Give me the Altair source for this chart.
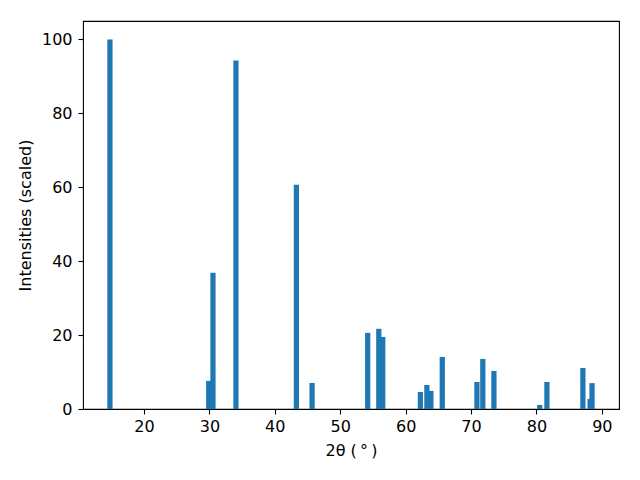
import altair as alt
import pandas as pd

two_theta = [14.8, 29.9, 30.55, 34.06, 43.3, 45.7, 54.2, 55.9, 56.5, 62.26, 63.25, 63.86,
             65.6, 70.9, 71.8, 73.5, 80.5, 81.6, 87.1, 88.2, 88.5]
intensity = [100.0, 7.6, 36.9, 94.3, 60.7, 7.05, 20.6, 21.7, 19.5, 4.6, 6.5, 4.9,
             14.1, 7.3, 13.55, 10.3, 1.1, 7.3, 11.1, 2.7, 7.0]

df = pd.DataFrame({"x": two_theta, "y": intensity})

font = "DejaVu Sans"
common = dict(grid=False, tickSize=5, tickWidth=1.1, tickColor="black",
              labelFontSize=16, titleFontSize=16, titleFontWeight="normal",
              labelFont=font, titleFont=font, labelColor="black",
              titleColor="black", domain=False)

chart = alt.Chart(df).transform_calculate(
    x0="datum.x - 0.4", x1="datum.x + 0.4"
).mark_bar(color="#1f77b4").encode(
    x=alt.X("x0:Q", scale=alt.Scale(domain=[10.68, 92.62], nice=False, zero=False),
            axis=alt.Axis(values=[20, 30, 40, 50, 60, 70, 80, 90],
                          title="2θ (\u2009°\u2009)", labelPadding=4, titlePadding=8,
                          **common)),
    x2="x1:Q",
    y=alt.Y("y:Q", scale=alt.Scale(domain=[0, 105], nice=False),
            axis=alt.Axis(values=[0, 20, 40, 60, 80, 100], title="Intensities (scaled)",
                          labelPadding=6, titlePadding=8, **common)),
    y2=alt.datum(0),
).properties(
    width=536, height=388,
    autosize=alt.AutoSizeParams(type="none"),
    padding={"left": 75, "top": 13, "right": 13, "bottom": 63},
).configure_view(stroke="black", strokeWidth=1.1)

chart.save("out.html", embed_options={"renderer": "svg", "actions": False})
